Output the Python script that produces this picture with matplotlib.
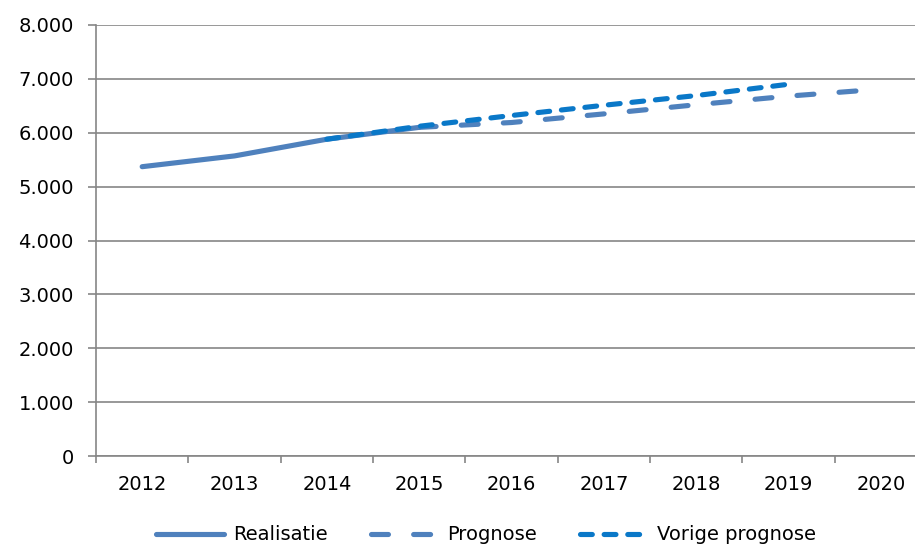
import numpy as np
import matplotlib
matplotlib.use("Agg")
import matplotlib.pyplot as plt
from matplotlib.ticker import FixedLocator, FuncFormatter

years = ["2012", "2013", "2014", "2015", "2016", "2017", "2018", "2019", "2020"]
realisatie = [5370, 5570, 5880, 6100, np.nan, np.nan, np.nan, np.nan, np.nan]
prognose = [np.nan, np.nan, np.nan, 6100, 6190, 6350, 6520, 6680, 6810]
vorige_prognose = [np.nan, np.nan, 5880, 6120, 6320, 6510, 6690, 6900, np.nan]
yticks = [0, 1000, 2000, 3000, 4000, 5000, 6000, 7000, 8000]

plt.rcParams['font.family'] = ['DejaVu Sans']
fig = plt.figure(figsize=(9.15, 5.46), dpi=100)
ax = fig.add_axes([96/915, 90/546, 831/915, 431/546])

x = np.arange(len(years))
c_real = "#4F81BD"
c_vor = "#0A78C8"
lw = 3.7
fs = 14
ax.plot(x, realisatie, color=c_real, lw=lw, solid_capstyle='round', label="Realisatie", zorder=3)
ax.plot(x, prognose, color=c_real, lw=lw, dash_capstyle='round', dashes=(3.3, 4.9),
        label="Prognose", zorder=4)
ax.plot(x, vorige_prognose, color=c_vor, lw=lw, dash_capstyle='round', dashes=(2.3, 2.3),
        label="Vorige prognose", zorder=5)

ax.set_xlim(-0.5, len(years) - 0.5)
ax.set_ylim(0, 8000)
ax.set_yticks(yticks)
ax.yaxis.set_major_formatter(FuncFormatter(lambda v, p: f"{int(v):,}".replace(",", ".")))
ax.set_xticks(x)
ax.set_xticklabels(years)
ax.xaxis.set_minor_locator(FixedLocator(np.arange(-0.5, len(years), 1.0)))
ax.tick_params(axis='x', which='major', length=0, pad=14, labelsize=fs, colors='black')
ax.tick_params(axis='x', which='minor', length=5, width=1.2, color='#868686')
ax.tick_params(axis='y', which='major', length=6, width=1.2, color='#868686', labelsize=fs, pad=10)
ax.grid(axis='y', color='#868686', lw=1.2)
ax.set_axisbelow(True)
for s in ['top', 'right']:
    ax.spines[s].set_visible(False)
for s in ['left', 'bottom']:
    ax.spines[s].set_color('#868686')
    ax.spines[s].set_linewidth(1.2)

fig.legend(loc='center', bbox_to_anchor=(486/915, 1 - 535/546), ncol=3, frameon=False,
           fontsize=fs, handlelength=3.5, handletextpad=0.45, columnspacing=2.2)

fig.savefig("out.png", dpi=100)
